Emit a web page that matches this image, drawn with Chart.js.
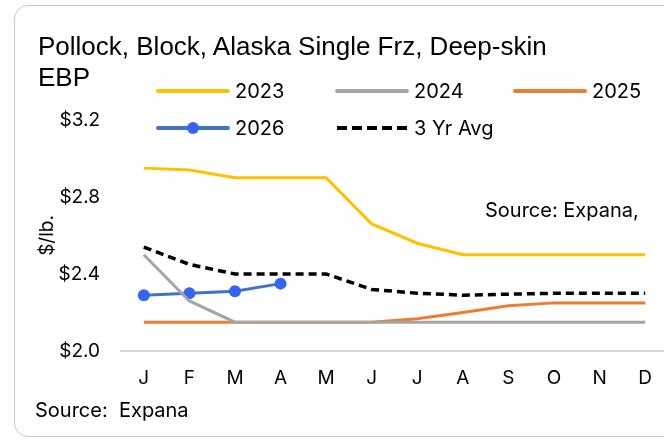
<!DOCTYPE html>
<html>
<head>
<meta charset="utf-8">
<script src="https://cdn.jsdelivr.net/npm/chart.js@4"></script>
<style>
    html, body { margin: 0; padding: 0; background: #fff; overflow: hidden; width: 664px; height: 440px; }
    #frame { position: absolute; left: 14px; top: 5px; width: 720px; height: 430px; border: 1px solid #c8c8c8; border-radius: 14px; }
    #wrap { position: absolute; left: 0; top: 0; width: 700px; height: 440px; }
    .txt { position: absolute; font-family: Inter, sans-serif; color: #000; white-space: nowrap; }
    #title { left: 38px; top: 31px; font-family: "Liberation Sans", Arial, sans-serif; font-size: 26px; line-height: 31px; }
    #src-inner { left: 485px; top: 198px; font-size: 20px; }
    #src-foot { left: 35px; top: 398px; font-size: 20px; }
</style>
</head>
<body>
<div id="frame"></div>
<div id="wrap"><canvas id="chart" width="700" height="440"></canvas></div>
<div class="txt" id="title">Pollock, Block, Alaska Single Frz, Deep-skin<br>EBP</div>
<div class="txt" id="src-inner">Source: Expana,</div>
<div class="txt" id="src-foot">Source:&nbsp; Expana</div>

<script>
// tick labels
const MONTHS = ["J", "F", "M", "A", "M", "J", "J", "A", "S", "O", "N", "D"];

// $/lb. values
const PRICES_2023 = [2.95, 2.94, 2.90, 2.90, 2.90, 2.66, 2.56, 2.50, 2.50, 2.50, 2.50, 2.50];
const PRICES_2024 = [2.50, 2.26, 2.15, 2.15, 2.15, 2.15, 2.15, 2.15, 2.15, 2.15, 2.15, 2.15];
const PRICES_2025 = [2.15, 2.15, 2.15, 2.15, 2.15, 2.15, 2.167, 2.20, 2.235, 2.25, 2.25, 2.25];
const PRICES_2026 = [2.29, 2.30, 2.31, 2.35, null, null, null, null, null, null, null, null];
const AVG_3YR = [2.54, 2.45, 2.40, 2.40, 2.40, 2.32, 2.30, 2.29, 2.295, 2.30, 2.30, 2.30];

// where each legend entry sits (line start x, centre y)
const LEGEND_POS = [[158, 91], [337, 91], [515, 91], [158, 128], [337, 128]];

Chart.defaults.font.family = "Inter, sans-serif";
Chart.defaults.font.size = 19;
Chart.defaults.color = "#000";

const cornerLegend = {
    id: "cornerLegend",
    afterDraw(chart) {
        const ctx = chart.ctx;
        chart.data.datasets.forEach((ds, i) => {
            const [x, y] = LEGEND_POS[i];
            ctx.save();
            ctx.strokeStyle = ds.borderColor;
            ctx.lineWidth = 4;
            ctx.setLineDash(ds.borderDash ? [10, 5] : []);
            ctx.lineCap = ds.borderDash ? "butt" : "round";
            ctx.beginPath();
            ctx.moveTo(x, y);
            ctx.lineTo(x + 70, y);
            ctx.stroke();
            if (ds.pointRadius) {
                ctx.fillStyle = ds.pointBackgroundColor;
                ctx.beginPath();
                ctx.arc(x + 35, y, ds.pointRadius, 0, Math.PI * 2);
                ctx.fill();
            }
            ctx.fillStyle = "#000";
            ctx.font = "20px Inter, sans-serif";
            ctx.textBaseline = "middle";
            ctx.fillText(ds.label, x + 77, y + 1);
            ctx.restore();
        });
    }
};

function lineSet(label, data, color, extra = {}) {
    return Object.assign({
        label: label,
        data: data,
        borderColor: color,
        backgroundColor: color,
        borderWidth: 3,
        pointRadius: 0,
        tension: 0,
        fill: false,
    }, extra);
}

const ctx = document.getElementById("chart").getContext("2d");
new Chart(ctx, {
    type: "line",
    data: {
        labels: MONTHS,
        datasets: [
            lineSet("2023", PRICES_2023, "#FFC000"),
            lineSet("2024", PRICES_2024, "#A5A5A5"),
            lineSet("2025", PRICES_2025, "#ED7D31"),
            lineSet("2026", PRICES_2026, "#4472C4", {
                pointRadius: 6,
                pointBackgroundColor: "#3366F5",
                pointBorderWidth: 0,
            }),
            lineSet("3 Yr Avg", AVG_3YR, "#000000", { borderDash: [8, 5], borderWidth: 3.5 }),
        ]
    },
    options: {
        responsive: false,
        animation: false,
        layout: { padding: { top: 120, right: 32, left: 0, bottom: 0 } },
        plugins: {
            legend: { display: false },
            tooltip: { enabled: false },
        },
        scales: {
            x: {
                offset: true,
                grid: { display: false, drawTicks: false },
                border: { display: true, color: "#d9d9d9", width: 2 },
                ticks: { padding: 16 },
                afterFit: s => { s.height = 89; }
            },
            y: {
                min: 2.0,
                max: 3.2,
                grid: { display: false, drawTicks: false },
                border: { display: false },
                ticks: {
                    stepSize: 0.4,
                    padding: 21,
                    callback: v => "$" + Number(v).toFixed(1)
                },
                title: { display: true, text: "$/lb.", padding: { top: 36, bottom: 0 } },
                afterFit: s => { s.width = 121; }
            }
        }
    },
    plugins: [cornerLegend]
});
</script>
</body>
</html>
